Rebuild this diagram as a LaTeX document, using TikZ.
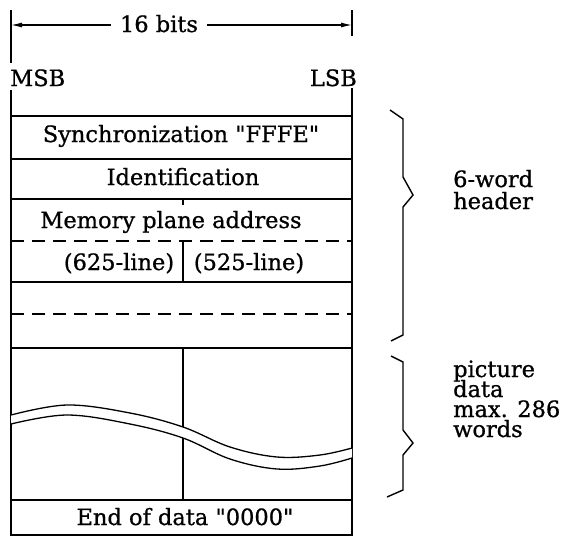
\documentclass[tikz,border=0pt]{standalone}
\usepackage{fontspec}
\setmainfont[FakeBold=0.8]{DejaVu Serif}
\usetikzlibrary{arrows.meta}
\tikzset{
  lbl/.style={anchor=base, inner sep=0pt},
  side/.style={anchor=base west, inner sep=0pt},
  edge/.style={line width=1.3pt},
  dashedline/.style={line width=1.2pt, dash pattern=on 13pt off 8pt},
  dimarrow/.style={line width=1.2pt, -{Latex[length=11pt,width=5pt]}},
  brace/.style={line width=1.4pt, line join=miter},
}
\newcommand{\dq}{\XeTeXglyph\XeTeXcharglyph34\relax}
\begin{document}
\begin{tikzpicture}[x=1pt,y=-1pt, font=\fontsize{22.5}{24}\selectfont]
\useasboundingbox (0,0) rectangle (561,536);
% --- width dimension ---
\coordinate (ltop) at (11,25);
\coordinate (rtop) at (352,25);
\draw[edge] (11,10) -- (11,63);
\draw[edge] (352,10) -- (352,36);
\node[lbl, inner xsep=9pt] (bits) at (159,32) {16 bits};
\draw[dimarrow] (bits.west |- ltop) -- (ltop);
\draw[dimarrow] (bits.east |- rtop) -- (rtop);
\node[anchor=base west, inner sep=0pt] (msb) at (10,86) {MSB};
\node[anchor=base east, inner sep=0pt] (lsb) at (357,86) {LSB};
% --- frame ---
\draw[edge] (11,90) -- (11,535) -- (352,535) -- (352,88);
\draw[edge] (11,116) -- (352,116);
\draw[edge] (11,159) -- (352,159);
\draw[edge] (11,199) -- (352,199);
\draw[dashedline] (11,241) -- (352,241);
\draw[edge] (11,282) -- (352,282);
\draw[dashedline] (11,314) -- (352,314);
\draw[edge] (11,348) -- (352,348);
\draw[edge] (11,500) -- (352,500);
% dividers
\draw[edge] (183,199) -- (183,205);
\draw[edge] (183,241) -- (183,282);
\draw[edge] (183,348) -- (183,500);
% --- break (wave) ---
\fill[white] plot[smooth, tension=0.6] coordinates {(11,415) (67,405) (130,413) (183,427) (230,447) (277,457) (320,455) (352,448)}
  -- plot[smooth, tension=0.6] coordinates {(352,458) (320,466) (277,469) (230,459) (183,438) (130,424) (67,415) (11,424)} -- cycle;
\draw[edge] plot[smooth, tension=0.6] coordinates {(11,415) (67,405) (130,413) (183,427) (230,447) (277,457) (320,455) (352,448)};
\draw[edge] plot[smooth, tension=0.6] coordinates {(11,424) (67,415) (130,424) (183,438) (230,459) (277,469) (320,466) (352,458)};
% --- texts ---
\node[lbl] (sync) at (181,142) {Synchronization \dq FFFE\dq};
\node[lbl] (ident) at (183,185) {Identification};
\node[lbl] (mem) at (171,228) {Memory plane address};
\node[lbl] (l625) at (119,270) {(625-line)};
\node[lbl] (l525) at (249,270) {(525-line)};
\node[lbl] (eod) at (185,525) {End of data \dq 0000\dq};
% --- braces ---
\draw[brace] (390,110) -- (403,119) -- (403,177) -- (413,195) -- (403,207) -- (403,335) -- (391,341);
\draw[brace] (391,356) -- (403,362) -- (403,430) -- (413,443) -- (403,455) -- (403,490) -- (387,497);
\node[side] (hdr1) at (453,187) {6-word};
\node[side] (hdr2) at (453,209) {header};
\node[side] (pic1) at (453,377) {picture};
\node[side] (pic2) at (453,397) {data};
\node[side] (pic3) at (453,417) {max. 286};
\node[side] (pic4) at (453,437) {words};
\end{tikzpicture}
\end{document}
